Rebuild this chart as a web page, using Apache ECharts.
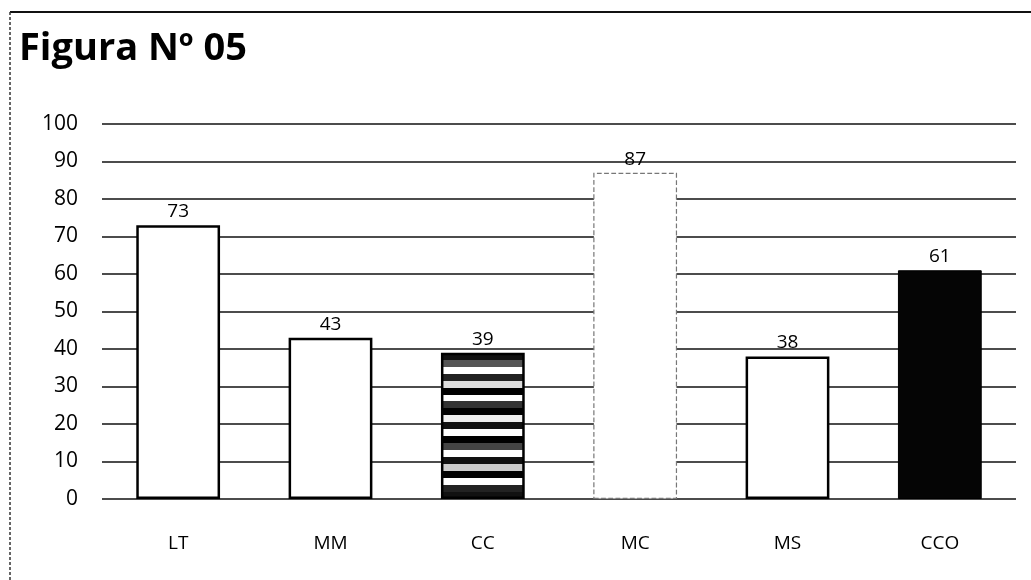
<!DOCTYPE html>
<html>
<head>
<meta charset="utf-8">
<script src="https://cdn.jsdelivr.net/npm/echarts@6/dist/echarts.min.js"></script>
<style>html,body{margin:0;padding:0;background:#fff;}#c{width:1031px;height:580px;}</style>
</head>
<body>
<div id="c"></div>
<script>
const categories = ['LT', 'MM', 'CC', 'MC', 'MS', 'CCO'];
const values = [73, 43, 39, 87, 38, 61];
const yTicks = [0, 10, 20, 30, 40, 50, 60, 70, 80, 90, 100];

const stripeStops = [];
const bands = ['#111','#555','#fff','#222','#ddd','#000','#fff','#333','#000','#eee','#111','#fff','#000','#444','#fff','#111','#ccc','#000','#fff','#222','#111'];
bands.forEach((c, i) => {
  stripeStops.push({offset: i / bands.length, color: c});
  stripeStops.push({offset: (i + 1) / bands.length - 0.0001, color: c});
});

const barStyles = [
  {color: '#fff', borderColor: '#000', borderWidth: 2.5},
  {color: '#fff', borderColor: '#000', borderWidth: 2.5},
  {color: {type: 'linear', x: 0, y: 0, x2: 0, y2: 1, colorStops: stripeStops}, borderColor: '#000', borderWidth: 2.5},
  {color: '#fff', borderColor: '#777', borderWidth: 1.2, borderType: 'dashed'},
  {color: '#fff', borderColor: '#000', borderWidth: 2.5},
  {color: '#050505', borderColor: '#000', borderWidth: 1}
];

const chart = echarts.init(document.getElementById('c'));
chart.setOption({
  animation: false,
  backgroundColor: '#fff',
  title: {
    text: 'Figura Nº 05',
    left: 14, top: 25,
    textStyle: {fontFamily: 'Open Sans', fontWeight: 'bold', fontSize: 38, color: '#000'}
  },
  graphic: [
    {type: 'line', shape: {x1: 10, y1: 12, x2: 1031, y2: 12}, style: {stroke: '#111', lineWidth: 2}},
    {type: 'line', shape: {x1: 10, y1: 12, x2: 10, y2: 580}, style: {stroke: '#333', lineWidth: 1.5, lineDash: [3, 2]}}
  ],
  grid: {left: 102, right: 15, top: 124, bottom: 81},
  xAxis: {
    type: 'category',
    data: categories,
    axisLine: {show: false},
    axisTick: {show: false},
    axisLabel: {margin: 35, fontFamily: 'Open Sans', fontSize: 19, color: '#000'}
  },
  yAxis: {
    type: 'value',
    min: yTicks[0], max: yTicks[yTicks.length - 1], interval: 10,
    axisLine: {show: false},
    axisTick: {show: false},
    axisLabel: {margin: 24, fontFamily: 'Open Sans', fontSize: 21, color: '#000'},
    splitLine: {lineStyle: {color: '#111', width: 1.6}}
  },
  series: [{
    type: 'bar',
    barWidth: '55%',
    data: values.map((v, i) => ({value: v, itemStyle: barStyles[i]})),
    label: {show: true, position: 'top', distance: 4, fontFamily: 'Open Sans', fontSize: 19, color: '#000'}
  }]
});
</script>
</body>
</html>
